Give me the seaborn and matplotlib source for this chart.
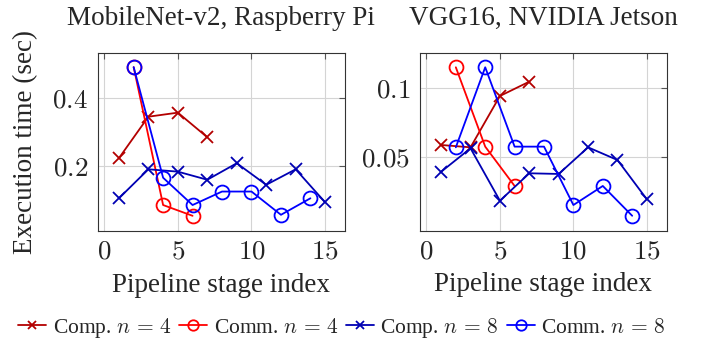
import matplotlib
matplotlib.use('Agg')
import matplotlib.pyplot as plt
import seaborn as sns

# stage indices
comp4_x = [1, 3, 5, 7]
comm4_x = [2, 4, 6]
comp8_x = [1, 3, 5, 7, 9, 11, 13, 15]
comm8_x = [2, 4, 6, 8, 10, 12, 14]

# MobileNet-v2, Raspberry Pi
mob_comp4 = [0.222, 0.345, 0.357, 0.284]
mob_comm4 = [0.492, 0.083, 0.051]
mob_comp8 = [0.103, 0.189, 0.182, 0.158, 0.207, 0.143, 0.189, 0.091]
mob_comm8 = [0.492, 0.164, 0.083, 0.123, 0.123, 0.054, 0.103]

# VGG16, NVIDIA Jetson
vgg_comp4 = [0.0585, 0.0568, 0.094, 0.1044]
vgg_comm4 = [0.1148, 0.0573, 0.0288]
vgg_comp8 = [0.0391, 0.0561, 0.0181, 0.038, 0.0375, 0.0568, 0.0476, 0.0191]
vgg_comm8 = [0.0568, 0.1148, 0.0573, 0.0573, 0.015, 0.0288, 0.0072]

labels = ['Comp. $n\\,=\\,4$', 'Comm. $n\\,=\\,4$', 'Comp. $n\\,=\\,8$', 'Comm. $n\\,=\\,8$']
colors = ['#b30000', '#ff0000', '#0000b3', '#0000ff']
markers = ['x', 'o', 'x', 'o']

sns.set_style('white')
plt.rcParams['font.family'] = ['Liberation Serif', 'DejaVu Serif']
plt.rcParams['mathtext.fontset'] = 'cm'

FS = 19.5

fig = plt.figure(figsize=(7.05, 3.46), dpi=100)
ax1 = fig.add_axes([0.1386, 0.3324, 0.3508, 0.5145])
ax2 = fig.add_axes([0.5957, 0.3333, 0.3500, 0.5145])

panels = [
    (ax1, 'MobileNet-v2, Raspberry Pi', [mob_comp4, mob_comm4, mob_comp8, mob_comm8]),
    (ax2, 'VGG16, NVIDIA Jetson', [vgg_comp4, vgg_comm4, vgg_comp8, vgg_comm8]),
]
xs = [comp4_x, comm4_x, comp8_x, comm8_x]

for ax, title, series in panels:
    for x, y, c, m, lab in zip(xs, series, colors, markers, labels):
        if m == 'o':
            sns.lineplot(x=x, y=y, ax=ax, color=c, marker='o', markersize=10,
                         markerfacecolor='none', markeredgecolor=c,
                         markeredgewidth=1.3, linewidth=1.3, label=lab)
        else:
            sns.lineplot(x=x, y=y, ax=ax, color=c, marker='x', markersize=8,
                         markeredgecolor=c, markeredgewidth=1.3,
                         linewidth=1.3, label=lab)
    ax.get_legend().remove()
    ax.set_title(title, size=FS, pad=20)
    ax.set_xlabel('Pipeline stage index', size=FS, labelpad=6)
    ax.set_xlim(-0.44, 16.35)
    ax.set_xticks([0, 5, 10, 15])
    ax.set_xticklabels(['$0$', '$5$', '$10$', '$15$'])
    ax.grid(True, color='#d4d4d4', linewidth=0.8)
    ax.set_axisbelow(True)
    ax.tick_params(direction='in', length=4, width=0.8, color='#555555',
                   labelsize=FS, top=True, right=True)
    ax.tick_params(axis='x', pad=6)
    ax.tick_params(axis='y', pad=7)
    for s in ax.spines.values():
        s.set_color('#333333')
        s.set_linewidth(0.8)

ax1.set_ylim(0.006, 0.534)
ax1.set_yticks([0.2, 0.4])
ax1.set_yticklabels(['$0.2$', '$0.4$'])
ax1.set_ylabel('Execution time (sec)', size=FS, labelpad=10)
ax2.set_ylim(-0.0036, 0.1254)
ax2.set_yticks([0.05, 0.1])
ax2.set_yticklabels(['$0.05$', '$0.1$'])
ax2.set_ylabel('')

handles, labs = ax1.get_legend_handles_labels()
fig.legend(handles, labs, loc='center', bbox_to_anchor=(0.485, 0.052), ncol=4,
           frameon=False, fontsize=15.5, handlelength=1.3, handletextpad=0.3,
           columnspacing=0.35, markerscale=0.75)

fig.savefig('out.png', dpi=100)
